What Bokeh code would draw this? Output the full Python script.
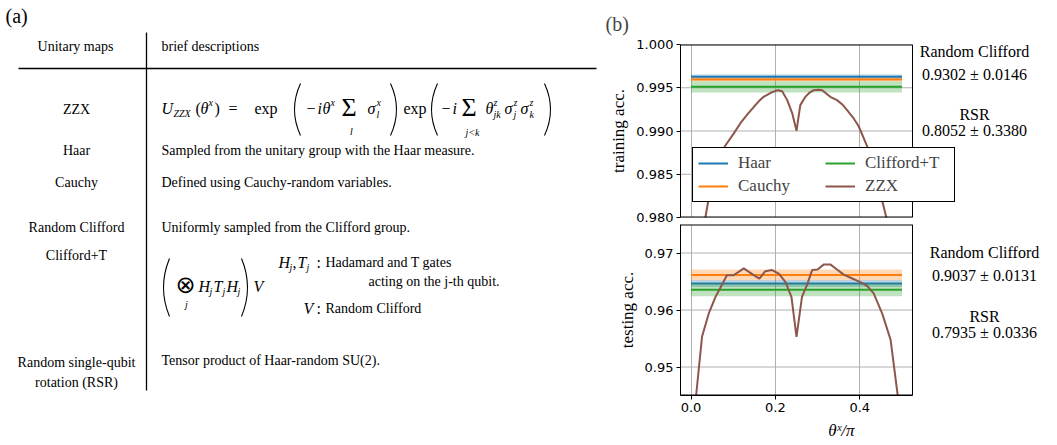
from bokeh.plotting import figure
from bokeh.models import Range1d, FixedTicker, Label, Legend, LegendItem, PrintfTickFormatter, Title
from bokeh.layouts import row, column
from bokeh.embed import file_html
from bokeh.resources import INLINE
from bokeh.core.properties import value

SERIF = "Liberation Serif"
SANS = "DejaVu Sans"

# ---------------- data ----------------
band_x = [0.0, 0.5]
method_names = ["Haar", "Cauchy", "Clifford+T"]
method_colors = ["#1f77b4", "#ff7f0e", "#2ca02c"]
train_mean = [0.99626, 0.99596, 0.99511]
train_std = [0.00027, 0.00020, 0.00065]
test_mean = [0.96465, 0.96616, 0.96355]
test_std = [0.00060, 0.00096, 0.00115]
zzx_color = "#8c564b"

zzx_train_x = [0.0, 0.0125, 0.034, 0.050, 0.065, 0.081, 0.101, 0.117, 0.135, 0.149,
               0.160, 0.172, 0.190, 0.206, 0.216, 0.228, 0.240, 0.250, 0.259, 0.271,
               0.280, 0.291, 0.303, 0.311, 0.330, 0.346, 0.360, 0.370, 0.385, 0.398,
               0.418, 0.440, 0.463, 0.4875, 0.5]
zzx_train_y = [0.960, 0.972, 0.9800, 0.9845, 0.9868, 0.9883, 0.9897, 0.9909, 0.9920, 0.9928,
               0.9934, 0.99395, 0.99445, 0.99472, 0.9946, 0.99357, 0.99203, 0.99002, 0.99299, 0.99395,
               0.9944, 0.99472, 0.99478, 0.99472, 0.99395, 0.99357, 0.9930, 0.99241, 0.9915, 0.99049,
               0.98817, 0.9845, 0.9800, 0.972, 0.960]

zzx_test_x = [0.0, 0.012, 0.026, 0.042, 0.058, 0.073, 0.085, 0.101, 0.125, 0.145,
              0.162, 0.176, 0.192, 0.208, 0.224, 0.238, 0.250, 0.263, 0.275, 0.287,
              0.300, 0.315, 0.330, 0.346, 0.362, 0.386, 0.406, 0.418, 0.433, 0.453,
              0.473, 0.490, 0.5]
zzx_test_y = [0.925, 0.945, 0.9553, 0.9594, 0.9623, 0.9644, 0.9661, 0.9661, 0.9673, 0.9663,
              0.9655, 0.9668, 0.9670, 0.9664, 0.9649, 0.9623, 0.9553, 0.9623, 0.9644, 0.9670,
              0.9671, 0.9680, 0.9680, 0.9671, 0.9662, 0.9654, 0.9647, 0.9642, 0.9629, 0.9594,
              0.9548, 0.945, 0.925]

train_yticks = [0.980, 0.985, 0.990, 0.995, 1.000]
test_yticks = [0.95, 0.96, 0.97]
xticks = [0.0, 0.2, 0.4]

rc_name = "Random Clifford"
rsr_name = "RSR"
rc_train = "0.9302 ± 0.0146"
rsr_train = "0.8052 ± 0.3380"
rc_test = "0.9037 ± 0.0131"
rsr_test = "0.7935 ± 0.0336"

table_header = ["Unitary maps", "brief descriptions"]
table_names = ["ZZX", "Haar", "Cauchy", "Random Clifford", "Clifford+T",
               "Random single-qubit", "rotation (RSR)"]
table_desc = ["Sampled from the unitary group with the Haar measure.",
              "Defined using Cauchy-random variables.",
              "Uniformly sampled from the Clifford group.",
              "Tensor product of Haar-random SU(2)."]

# ---------------- table panel ----------------
t = figure(width=600, height=445, x_range=Range1d(0, 600), y_range=Range1d(445, 0),
           x_axis_location=None, y_axis_location=None, output_backend="svg",
           toolbar_location=None, min_border=0)
t.outline_line_color = None
t.grid.grid_line_color = None
t.background_fill_color = "white"
t.border_fill_color = "white"

FS = 14   # table text size
M = 16    # math main size
S = 10    # math script size


def tx(x, y, s, size=FS, style="normal", align="left", font=SERIF):
    t.text(x=[x], y=[y], text=[s], text_font=value(font), text_font_size=f"{size}px",
           text_font_style=style, text_align=align, text_baseline="middle", text_color="black")


def paren(xa, yc, h, left=True, w=6):
    if left:
        t.quadratic(x0=[xa + w], y0=[yc - h], x1=[xa + w], y1=[yc + h], cx=[xa - w], cy=[yc],
                    line_color="black", line_width=1.1)
    else:
        t.quadratic(x0=[xa - w], y0=[yc - h], x1=[xa - w], y1=[yc + h], cx=[xa + w], cy=[yc],
                    line_color="black", line_width=1.1)


tx(5, 15, "(a)", size=20)
tx(75, 46, table_header[0], align="center")
tx(161, 46, table_header[1])
t.line(x=[18, 596], y=[68, 68], line_color="black", line_width=1.3)
t.line(x=[146, 146], y=[32, 390], line_color="black", line_width=1.3)

name_y = [109, 150, 182, 227, 255, 362, 382]
for s, y in zip(table_names, name_y):
    tx(76, y, s, align="center")
desc_y = [150, 182, 227, 360]
for s, y in zip(table_desc, desc_y):
    tx(161, y, s)

# ZZX formula
y0, ysup, ysub = 108, 102, 114
for s, x, y, sz, st in [
    ("U", 161, y0, M, "italic"), ("ZZX", 173, ysub - 1, S, "italic"),
    ("(", 195, y0, M, "normal"), ("θ", 200, y0, M, "italic"), ("x", 208, ysup, S, "italic"),
    (")", 214, y0, M, "normal"), ("=", 228, y0, M, "normal"), ("exp", 254, y0, M, "normal"),
    ("−", 306, y0, M, "normal"), ("i", 317, y0, M, "italic"), ("θ", 322, y0, M, "italic"),
    ("x", 330, ysup, S, "italic"),
    ("σ", 367, y0, M, "italic"), ("x", 376, ysup, S, "italic"), ("l", 376, ysub, S, "italic"),
    ("exp", 403, y0, M, "normal"),
    ("−", 441, y0, M, "normal"), ("i", 452, y0, M, "italic"),
    ("θ", 485, y0, M, "italic"), ("z", 493, ysup, S, "italic"), ("jk", 493, ysub, S, "italic"),
    ("σ", 504, y0, M, "italic"), ("z", 513, ysup, S, "italic"), ("j", 513, ysub, S, "italic"),
    ("σ", 520, y0, M, "italic"), ("z", 529, ysup, S, "italic"), ("k", 529, ysub, S, "italic"),
]:
    tx(x, y, s, size=sz, style=st)
tx(341, y0 - 1, "Σ", size=26)
tx(351, 131, "l", size=S, style="italic", align="center")
tx(461, y0 - 1, "Σ", size=26)
tx(472, 132, "j<k", size=S, style="italic", align="center")
paren(294, 109, 26, True)
paren(396, 109, 26, False)
paren(431, 109, 26, True)
paren(550, 109, 26, False)

# Clifford+T formula
yc = 286
tx(175, yc - 2, "⊗", size=24, font=SANS)
tx(186, 304, "j", size=S, style="italic", align="center")
for s, x, y, sz, st in [
    ("H", 198, yc, M, "italic"), ("j", 209, yc + 5, S, "italic"),
    ("T", 213, yc, M, "italic"), ("j", 222, yc + 5, S, "italic"),
    ("H", 226, yc, M, "italic"), ("j", 237, yc + 5, S, "italic"),
    ("V", 253, yc, M, "italic"),
    ("H", 278, 262, M, "italic"), ("j", 289, 267, S, "italic"), (",", 292, 262, M, "normal"),
    ("T", 297, 262, M, "italic"), ("j", 306, 267, S, "italic"), (":", 316, 262, M, "normal"),
    ("V", 303, 308, M, "italic"), (":", 316, 308, M, "normal"),
]:
    tx(x, y, s, size=sz, style=st)
tx(325, 262, "Hadamard and T gates")
tx(368, 281, "acting on the j-th qubit.")
tx(325, 308, "Random Clifford")
paren(163, 287, 29, True)
paren(247, 287, 29, False)

# ---------------- plots ----------------
XLO, XHI = -0.025, 0.525
FW_AX = 232            # pixel width of the axes box
FW = 377               # frame extends to the right edge, for the side texts
X_END = XLO + (XHI - XLO) * FW / FW_AX
GRID = "#b0b0b0"


def make_panel(means, stds, zx, zy, ylo, yhi, yticks, yfmt, ylabel, frame_h, top, bottom):
    p = figure(frame_width=FW, frame_height=frame_h,
               x_range=Range1d(XLO, X_END), y_range=Range1d(ylo, yhi),
               output_backend="svg", toolbar_location=None,
               min_border_left=80, min_border_right=0,
               min_border_top=top, min_border_bottom=bottom)
    p.background_fill_color = "white"
    p.border_fill_color = "white"
    p.outline_line_color = None
    p.ygrid.visible = False
    # horizontal grid lines, limited to the axes box
    n = len(yticks)
    p.segment(x0=[XLO] * n, y0=yticks, x1=[XHI] * n, y1=yticks, line_color=GRID, line_width=1)
    rends = []
    for col, m, s in zip(method_colors, means, stds):
        p.varea(x=band_x, y1=[m - s, m - s], y2=[m + s, m + s], fill_color=col, fill_alpha=0.3)
        rends.append(p.line(x=band_x, y=[m, m], line_color=col, line_width=2))
    rz = p.line(x=zx, y=zy, line_color=zzx_color, line_width=2)
    rends.append(rz)
    # axes box (top/bottom edges sit on the frame border, so they are drawn wider)
    p.segment(x0=[XLO, XLO], y0=[yhi, ylo], x1=[XHI, XHI], y1=[yhi, ylo],
              line_color="black", line_width=2)
    p.segment(x0=[XHI], y0=[ylo], x1=[XHI], y1=[yhi], line_color="black", line_width=1)

    p.yaxis.ticker = FixedTicker(ticks=yticks)
    p.yaxis.formatter = PrintfTickFormatter(format=yfmt)
    p.xaxis.ticker = FixedTicker(ticks=xticks)
    p.xaxis.formatter = PrintfTickFormatter(format="%.1f")
    p.xaxis.bounds = (XLO, XHI)
    p.xgrid.ticker = FixedTicker(ticks=xticks)
    p.xgrid.grid_line_color = GRID
    p.xgrid.grid_line_width = 1
    for ax in (p.xaxis, p.yaxis):
        ax.major_tick_out = 4
        ax.major_tick_in = 0
        ax.minor_tick_out = 0
        ax.minor_tick_in = 0
        ax.major_tick_line_color = "black"
        ax.axis_line_color = "black"
        ax.major_label_text_font = SANS
        ax.major_label_text_font_size = "13px"
        ax.major_label_text_color = "black"
        ax.major_label_standoff = 3
        ax.axis_label_text_font = SERIF
        ax.axis_label_text_font_size = "17px"
        ax.axis_label_text_font_style = "normal"
        ax.axis_label_text_color = "black"
    p.yaxis.axis_label = ylabel
    p.yaxis.axis_label_standoff = 5
    return p, rends


top, rt = make_panel(train_mean, train_std, zzx_train_x, zzx_train_y, 0.980, 1.000,
                     train_yticks, "%.3f", "training acc.", 173, 44, 7)
top.xaxis.visible = False
top.title = Title(text="(b)", align="left", offset=-75, text_font=SERIF,
                  text_font_size="20px", text_font_style="normal", standoff=19)

legend = Legend(items=[LegendItem(label="Haar", renderers=[rt[0]]),
                       LegendItem(label="Cauchy", renderers=[rt[1]]),
                       LegendItem(label="Clifford+T", renderers=[rt[2]]),
                       LegendItem(label="ZZX", renderers=[rt[3]])],
                location=(12, 15), ncols=2, orientation="vertical")
legend.label_text_font = SERIF
legend.label_text_font_size = "17px"
legend.glyph_width = 30
legend.glyph_height = 20
legend.label_height = 20
legend.label_width = 84
legend.label_standoff = 10
legend.padding = 5
legend.spacing = 3
legend.margin = 0
legend.border_line_color = "black"
legend.border_line_width = 1
legend.border_line_alpha = 1
legend.background_fill_color = "white"
legend.background_fill_alpha = 1
top.add_layout(legend)

bot, rb = make_panel(test_mean, test_std, zzx_test_x, zzx_test_y, 0.945, 0.975,
                     test_yticks, "%.2f", "testing acc.", 171, 0, 24)


def lab(p, x, y, s, size=16):
    p.add_layout(Label(x=x, y=y, text=s, text_align="center", text_baseline="middle",
                       text_font=SERIF, text_font_size=f"{size}px", text_color="black"))


lab(top, 0.672, 0.99915, rc_name)
lab(top, 0.672, 0.99657, rc_train)
lab(top, 0.672, 0.99195, rsr_name)
lab(top, 0.672, 0.99010, rsr_train)
lab(bot, 0.6957, 0.97014, rc_name)
lab(bot, 0.6957, 0.96605, rc_test)
lab(bot, 0.6957, 0.95886, rsr_name)
lab(bot, 0.6957, 0.95611, rsr_test)

# x-axis label of the lower panel, centred under the axes box
xl = figure(width=457, height=26, x_range=Range1d(0, 457), y_range=Range1d(26, 0),
            x_axis_location=None, y_axis_location=None, output_backend="svg",
            toolbar_location=None, min_border=0)
xl.outline_line_color = None
xl.grid.grid_line_color = None
xl.text(x=[195], y=[11], text=["θˣ/π"], text_font=value(SERIF), text_font_size="17px",
        text_font_style="italic", text_align="center", text_baseline="middle", text_color="black")

layout = row(t, column(top, bot, xl))
open("out.html", "w").write(file_html(layout, INLINE))
